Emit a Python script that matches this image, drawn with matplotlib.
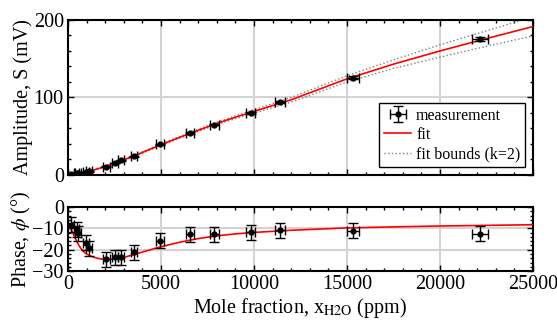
import matplotlib
matplotlib.use("Agg")
import matplotlib.pyplot as plt
from matplotlib.ticker import MultipleLocator

plt.rcParams['font.family'] = ['Liberation Serif', 'DejaVu Serif']
plt.rcParams['mathtext.fontset'] = 'stix'
plt.rcParams['font.size'] = 14.5

# measured points (ppm, mV, degrees)
x_meas = [160, 470, 555, 950, 1130, 2070, 2540, 2850, 3550, 4950, 6560, 7870, 9820, 11400, 15310, 22150]
x_err = [150, 150, 155, 160, 160, 170, 175, 180, 185, 200, 215, 225, 235, 270, 315, 420]
amp = [1, 2, 2.5, 3.5, 4.5, 10.7, 15.5, 19, 24, 39.5, 54, 65, 80.4, 94.6, 125.6, 175]
amp_err = [0.3, 0.3, 0.3, 0.3, 0.3, 0.4, 0.5, 0.5, 0.6, 0.8, 1.0, 1.1, 1.3, 1.4, 1.8, 2.4]
phase = [-8.4, -10.5, -12.3, -16.7, -19.4, -24.5, -23.6, -23.6, -21.2, -15.8, -12.8, -12.8, -11.9, -10.9, -11.1, -12.5]
phase_err = [3.5] * 16

# fit curves
x_fit = [0, 200, 400, 600, 800, 1000, 1250, 1500, 1750, 2000, 2500, 3000, 3500, 4000, 5000, 6000, 7000,
         8000, 9000, 10000, 12000, 15000, 17500, 20000, 22500, 25000]
amp_fit = [0, 0.8, 1.6, 2.4, 3.2, 4.0, 5.5, 7.2, 9.0, 11, 15, 19.5, 24, 29, 39, 48.5, 57.5,
           66.5, 74.5, 82, 97, 124, 143, 160, 176, 191.5]
amp_hi = [0, 1.0, 1.9, 2.8, 3.6, 4.5, 6.0, 7.8, 9.6, 11.6, 15.7, 20.2, 24.8, 29.9, 40.1, 49.7, 58.9,
          68.1, 76.4, 84.2, 100, 128, 148.5, 168, 186, 204]
amp_lo = [0, 0.6, 1.3, 2.0, 2.8, 3.5, 5.0, 6.6, 8.4, 10.4, 14.3, 18.8, 23.2, 28.1, 37.9, 47.3, 56.1,
          64.9, 72.6, 79.8, 94, 120, 137.5, 152, 166, 179.4]
phase_fit = [-7, -11, -14.8, -18.2, -20.6, -22.0, -23.1, -23.8, -24.3, -24.5, -24.3, -23.6, -22.4, -21.1, -18.6,
             -16.5, -14.8, -13.5, -12.6, -11.9, -10.9, -9.8, -9.3, -8.9, -8.6, -8.3]

fig = plt.figure(figsize=(5.57, 3.27), dpi=100)
ax1 = fig.add_axes([0.122, 0.465, 0.835, 0.474])
ax2 = fig.add_axes([0.122, 0.171, 0.835, 0.196])

ebkw = dict(fmt='o', color='black', ms=3.5, capsize=3.5, elinewidth=1, capthick=1)

meas = ax1.errorbar(x_meas, amp, xerr=x_err, yerr=amp_err, zorder=4, **ebkw)
fit_line, = ax1.plot(x_fit, amp_fit, color='red', lw=1.2, zorder=3)
bound_line, = ax1.plot(x_fit, amp_hi, color='gray', ls=':', lw=1, zorder=2)
ax1.plot(x_fit, amp_lo, color='gray', ls=':', lw=1, zorder=2)

ax2.errorbar(x_meas, phase, xerr=x_err, yerr=phase_err, zorder=4, **ebkw)
ax2.plot(x_fit, phase_fit, color='red', lw=1.2, zorder=3)

ax1.set_ylim(0, 200)
ax2.set_ylim(-30, 0)
for ax in (ax1, ax2):
    ax.set_xlim(0, 25000)
    ax.xaxis.set_major_locator(MultipleLocator(5000))
    ax.xaxis.set_minor_locator(MultipleLocator(1000))
    ax.grid(True, color='#d3d3d3', lw=1.5, zorder=0)
    ax.set_axisbelow(True)
    ax.tick_params(which='both', direction='in', top=True, right=True, width=1)
    ax.tick_params(which='major', length=4, pad=3)
    ax.tick_params(which='minor', length=2)
    for s in ax.spines.values():
        s.set_linewidth(1.5)

ax1.yaxis.set_major_locator(MultipleLocator(100))
ax1.yaxis.set_minor_locator(MultipleLocator(20))
ax1.tick_params(labelbottom=False)
ax2.yaxis.set_major_locator(MultipleLocator(10))
ax2.yaxis.set_minor_locator(MultipleLocator(2))

ax1.set_ylabel('Amplitude, S (mV)')
ax2.set_ylabel(r'Phase, $\phi$ (°)')
ax2.set_xlabel(r'Mole fraction, x$_{\mathrm{H2O}}$ (ppm)', labelpad=1)
ax1.yaxis.set_label_coords(-0.075, 0.5)
ax2.yaxis.set_label_coords(-0.075, 0.5)

leg = ax1.legend([meas, fit_line, bound_line], ['measurement', 'fit', 'fit bounds (k=2)'],
                 loc='lower right', fontsize=11.5, fancybox=False, framealpha=1,
                 edgecolor='black', borderpad=0.3, labelspacing=0.2, handlelength=1.7,
                 handletextpad=0.3, borderaxespad=0.5)
leg.get_frame().set_linewidth(1)

fig.savefig('out.png', dpi=100)
